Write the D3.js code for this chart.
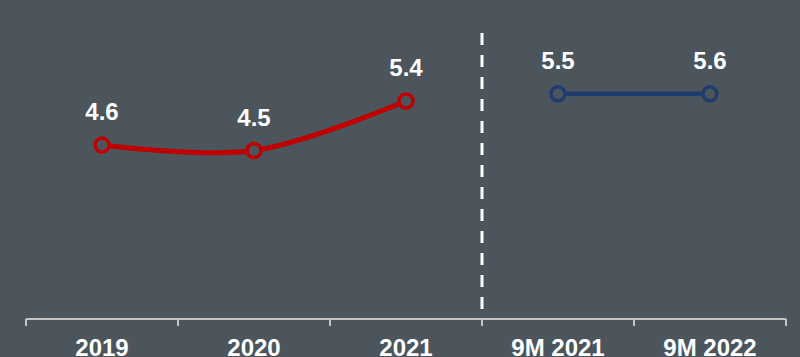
<!DOCTYPE html>
<html>
<head>
<meta charset="utf-8">
<script src="https://cdn.jsdelivr.net/npm/d3@7"></script>
<style>
  html, body { margin: 0; padding: 0; background: #4b555b; }
  svg { display: block; font-family: "Liberation Sans", Arial, sans-serif; }
</style>
</head>
<body>
<svg id="chart" width="800" height="357"></svg>
<script>
const categories = ["2019", "2020", "2021", "9M 2021", "9M 2022"];
const annualYears = ["2019", "2020", "2021"];
const annualValues = [4.6, 4.5, 5.4];
const ninemonthYears = ["9M 2021", "9M 2022"];
// the source draws both 9M points at the same level
const ninemonthValues = [5.53, 5.53];
const ninemonthLabels = ["5.5", "5.6"];

const width = 800, height = 357;
const bg = "#4b555b";
const svg = d3.select("#chart");

const x = d3.scaleBand().domain(categories).range([26, 786]);
const y = d3.scaleLinear().domain([4, 6]).range([178, 68]);
const axisY = 319;

// axis line + ticks at band edges
const axis = svg.append("g");
axis.append("line")
    .attr("x1", 26).attr("x2", 786)
    .attr("y1", axisY).attr("y2", axisY)
    .attr("stroke", "#c4c4c4").attr("stroke-width", 2);
const edges = categories.map(c => x(c)).concat([x.range()[1]]);
axis.selectAll(".tick")
    .data(edges)
  .enter().append("line")
    .attr("x1", d => d).attr("x2", d => d)
    .attr("y1", axisY).attr("y2", axisY + 7)
    .attr("stroke", "#c4c4c4").attr("stroke-width", 2);
// category labels sit at the bottom edge, partly cropped like the source
axis.selectAll(".cat")
    .data(categories)
  .enter().append("text")
    .attr("x", d => x(d) + x.bandwidth() / 2)
    .attr("y", 356)
    .attr("text-anchor", "middle")
    .attr("fill", "#fff")
    .attr("font-weight", "bold")
    .attr("font-size", 24)
    .text(d => d);

// dashed divider between full years and 9M
svg.append("line")
    .attr("x1", x("9M 2021")).attr("x2", x("9M 2021"))
    .attr("y1", 33).attr("y2", axisY)
    .attr("stroke", "#fff").attr("stroke-width", 3)
    .attr("stroke-dasharray", "12,10");

const line = d3.line()
    .x(d => x(d[0]) + x.bandwidth() / 2)
    .y(d => y(d[1]))
    .curve(d3.curveCatmullRom);

const drawSeries = (keys, vals, labels, color, lw) => {
  const pts = keys.map((k, i) => [k, vals[i], labels[i]]);
  svg.append("path")
      .datum(pts)
      .attr("d", line)
      .attr("fill", "none")
      .attr("stroke", color)
      .attr("stroke-width", lw);
  svg.selectAll(null)
      .data(pts)
    .enter().append("circle")
      .attr("cx", d => x(d[0]) + x.bandwidth() / 2)
      .attr("cy", d => y(d[1]))
      .attr("r", 7)
      .attr("fill", bg)
      .attr("stroke", color)
      .attr("stroke-width", 3.5);
  svg.selectAll(null)
      .data(pts)
    .enter().append("text")
      .attr("x", d => x(d[0]) + x.bandwidth() / 2)
      .attr("y", d => y(d[1]) - 25)
      .attr("text-anchor", "middle")
      .attr("fill", "#fff")
      .attr("font-weight", "bold")
      .attr("font-size", 24)
      .text(d => d[2]);
};

drawSeries(annualYears, annualValues, annualValues.map(v => v.toFixed(1)), "#c00000", 5);
drawSeries(ninemonthYears, ninemonthValues, ninemonthLabels, "#1f3c6e", 4.5);
</script>
</body>
</html>
